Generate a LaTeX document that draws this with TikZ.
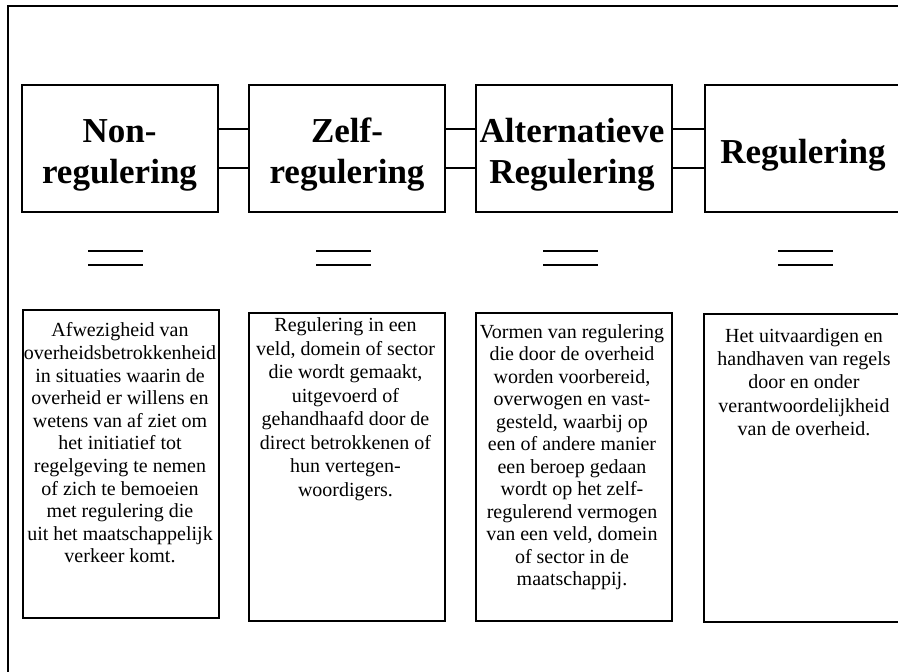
\documentclass[tikz,border=0pt]{standalone}
\usepackage{fontspec}
\setmainfont{Liberation Serif}
\usetikzlibrary{calc}
\begin{document}
\begin{tikzpicture}[x=1pt,y=-1pt,
  frame/.style={line width=1.8pt},
  headbox/.style={draw, line width=2pt, minimum width=196pt, minimum height=127pt, inner sep=0pt},
  descbox/.style={draw, line width=2pt, minimum width=196pt, minimum height=308pt, inner sep=0pt},
  headtext/.style={font=\fontsize{35}{41}\selectfont\bfseries, align=center, inner sep=0pt, anchor=north},
  desctext/.style={font=\fontsize{20}{#1}\selectfont, align=center, inner sep=0pt, anchor=north},
  link/.style={line width=1.7pt},
  eqbar/.style={line width=1.3pt}]
\useasboundingbox (0,0) rectangle (898,672);
\clip (0,0) rectangle (898,672);

% outer frame (runs past the right and bottom edges)
\draw[frame] (8.3,6.2) rectangle (930,700);

% category boxes
\node[headbox] (h1) at (119.5,148.5) {};
\node[headbox] (h2) at (347,148.5) {};
\node[headbox] (h3) at (574,148.5) {};
\node[headbox] (h4) at (803,148.5) {};

\node[headtext] (n1) at (h1 |- 0,112) {\rule{0pt}{30pt}Non-\\regulering};
\node[headtext] (n2) at (h2 |- 0,112) {\rule{0pt}{30pt}Zelf-\\regulering};
\node[headtext] (n3) at ([xshift=-2pt]h3 |- 0,112) {\rule{0pt}{30pt}Alternatieve\\Regulering};
\node[headtext] (n4) at (h4 |- 0,133.3) {\rule{0pt}{30pt}Regulering};

% double links between neighbouring boxes
\foreach \a/\b in {h1/h2,h2/h3,h3/h4}{
  \draw[link] ([yshift=19.5pt]\a.east) -- ([yshift=19.5pt]\b.west);
  \draw[link] ([yshift=-19.5pt]\a.east) -- ([yshift=-19.5pt]\b.west);
}

% equals signs between header and definition
\foreach \xa in {88,316,543,778}{
  \draw[eqbar] (\xa,251) -- ++(55,0);
  \draw[eqbar] (\xa,265) -- ++(55,0);
}

% definition boxes
\node[descbox] (d1) at (121,464) {};
\node[descbox] (d2) at (346.5,467) {};
\node[descbox] (d3) at (574,467) {};
\node[descbox] (d4) at (802,468) {};

\node[desctext=22.6pt] (t1) at (120,320.7) {\rule{0pt}{16pt}Afwezigheid van\\overheidsbetrokkenheid\\in situaties waarin de\\overheid er willens en\\wetens van af ziet om\\het initiatief tot\\regelgeving te nemen\\of zich te bemoeien\\met regulering die\\uit het maatschappelijk\\verkeer komt.};
\node[desctext=23.5pt] (t2) at (345.5,315.7) {\rule{0pt}{16pt}Regulering in een\\veld, domein of sector\\die wordt gemaakt,\\uitgevoerd of\\gehandhaafd door de\\direct betrokkenen of\\hun vertegen-\\woordigers.};
\node[desctext=22.5pt] (t3) at (572,322) {\rule{0pt}{16pt}Vormen van regulering\\die door de overheid\\worden voorbereid,\\overwogen en vast-\\gesteld, waarbij op\\een of andere manier\\een beroep gedaan\\wordt op het zelf-\\regulerend vermogen\\van een veld, domein\\of sector in de\\maatschappij.};
\node[desctext=23.3pt] (t4) at (804,326) {\rule{0pt}{16pt}Het uitvaardigen en\\handhaven van regels\\door en onder\\verantwoordelijkheid\\van de overheid.};
\end{tikzpicture}
\end{document}
